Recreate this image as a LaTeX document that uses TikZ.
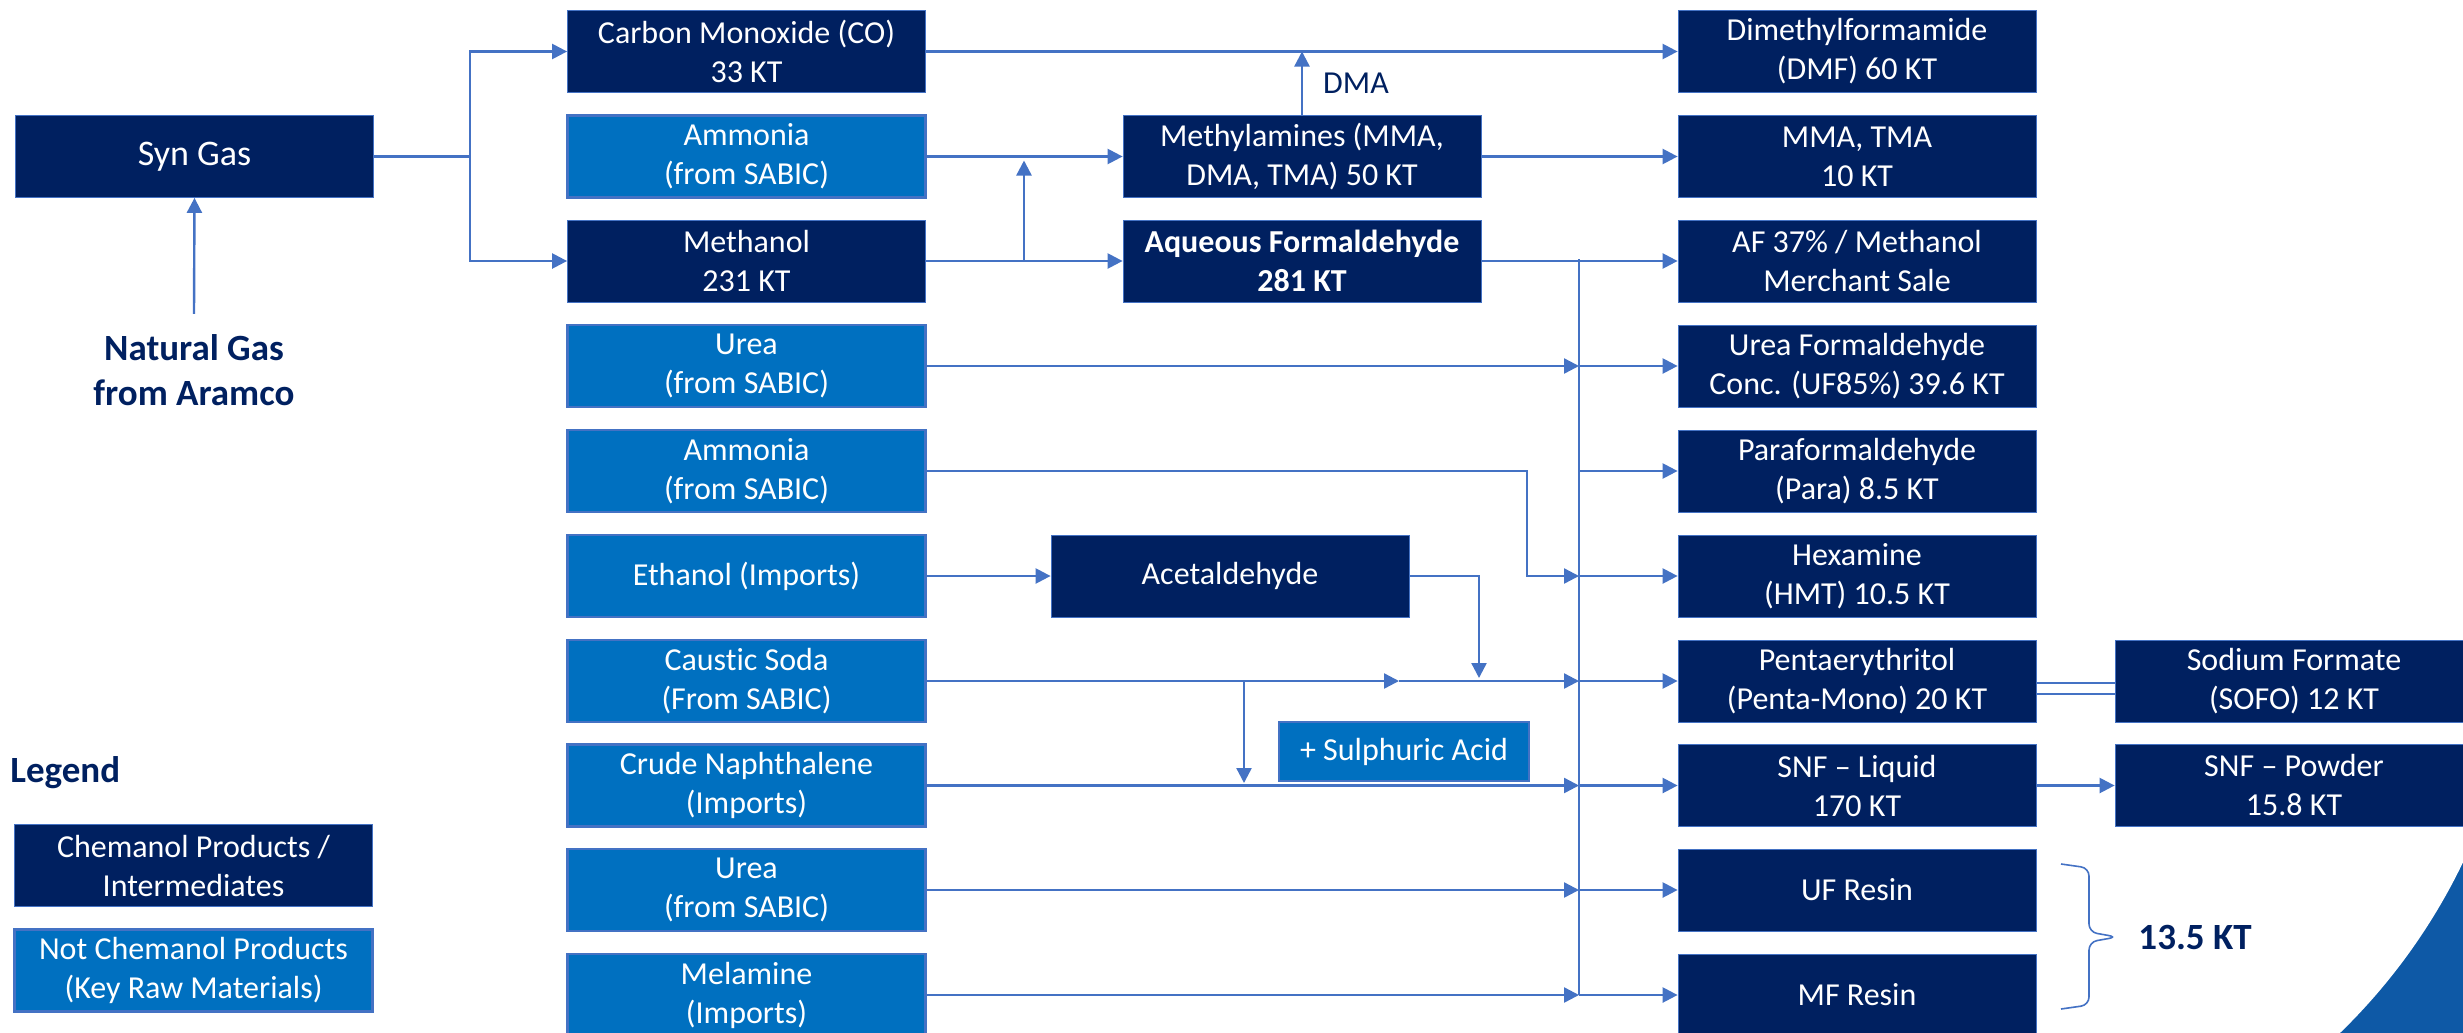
\documentclass[tikz,border=0pt]{standalone}
\usepackage{fontspec}
\setmainfont{Carlito}[Ligatures=NoCommon]
\usetikzlibrary{arrows.meta}
\definecolor{navy}{RGB}{0,32,96}
\definecolor{lblue}{RGB}{0,112,192}
\definecolor{lnblue}{RGB}{68,114,196}
\definecolor{arcblue}{RGB}{14,89,166}
\begin{document}
\begin{tikzpicture}[x=0.5pt,y=-0.5pt,
 box/.style={minimum width=179pt,minimum height=41pt,inner sep=0pt,align=center,text=white,font=\fontsize{16}{19.5}\selectfont},
 dk/.style={box,fill=navy,draw=lnblue,line width=0.4pt},
 lt/.style={box,fill=lblue,draw=lnblue,line width=1.2pt},
 conn/.style={draw=lnblue,line width=1.2pt},
 arr/.style={conn,-{Triangle[length=7.5pt,width=7.5pt]}},
 lbl/.style={text=navy,font=\fontsize{18.5}{22.5}\selectfont\bfseries,align=center,inner sep=0pt},
 plain/.style={text=navy,font=\fontsize{16}{19.5}\selectfont,inner sep=0pt},
]
\useasboundingbox (0,0) rectangle (2463,1033);
% decorative corner arc
\begin{scope}
\clip (2280,845) rectangle (2470,1040);
\fill[arcblue] (2270,835) rectangle (2480,1050);
\fill[white] (1922,602.5) circle (600);
\end{scope}
% left column
\node[dk,font=\fontsize{18}{21}\selectfont] (syn) at (194.5,156.5) {Syn Gas};
\node[lbl] (ng) at (194,370) {Natural Gas\\from Aramco};
\node[lbl,anchor=west] (leg) at (10,773) {Legend};
\node[dk] (lg1) at (193.5,865.5) {Chemanol Products /\\Intermediates};
\node[lt] (lg2) at (193.5,970.5) {Not Chemanol Products\\(Key Raw Materials)};
% second column
\node[dk] (co) at (746.5,51.5) {Carbon Monoxide (CO)\\33 KT};
\node[lt] (amm1) at (746.5,156.5) {Ammonia\\(from SABIC)};
\node[dk] (meth) at (746.5,261) {Methanol\\231 KT};
\node[lt] (urea1) at (746.5,366) {Urea\\(from SABIC)};
\node[lt] (amm2) at (746.5,471) {Ammonia\\(from SABIC)};
\node[lt] (eth) at (746.5,576) {Ethanol (Imports)};
\node[lt] (caus) at (746.5,681) {Caustic Soda\\(From SABIC)};
\node[lt] (naph) at (746.5,785.5) {Crude Naphthalene\\(Imports)};
\node[lt] (urea2) at (746.5,890) {Urea\\(from SABIC)};
\node[lt] (mel) at (746.5,995) {Melamine\\(Imports)};
% middle
\node[dk] (mma) at (1302,156.5) {Methylamines (MMA,\\DMA, TMA) 50 KT};
\node[dk,font=\fontsize{16}{19.5}\selectfont\bfseries] (af) at (1302,261) {Aqueous Formaldehyde\\281 KT};
\node[dk] (acet) at (1230,576) {Acetaldehyde};
\node[lt,minimum width=125pt,minimum height=29.5pt] (sul) at (1404,751.5) {+ Sulphuric Acid};
\node[plain] (dma) at (1356,83) {DMA};
% right column
\node[dk] (dmf) at (1857,51.5) {Dimethylformamide\\(DMF) 60 KT};
\node[dk] (mmt) at (1857,156.5) {MMA, TMA\\10 KT};
\node[dk] (afm) at (1857,261) {AF 37\% / Methanol\\Merchant Sale};
\node[dk] (uf85) at (1857,366) {Urea Formaldehyde\\Conc. (UF85\%) 39.6 KT};
\node[dk] (para) at (1857,471) {Paraformaldehyde\\(Para) 8.5 KT};
\node[dk] (hex) at (1857,576) {Hexamine\\(HMT) 10.5 KT};
\node[dk] (penta) at (1857,681) {Pentaerythritol\\(Penta-Mono) 20 KT};
\node[dk] (snfl) at (1857,785.5) {SNF – Liquid\\170 KT};
\node[dk] (ufr) at (1857,890) {UF Resin};
\node[dk] (mfr) at (1857,995) {MF Resin};
\node[dk] (sofo) at (2294,681) {Sodium Formate\\(SOFO) 12 KT};
\node[dk] (snfp) at (2294,785.5) {SNF – Powder\\15.8 KT};
\node[lbl] (tot) at (2195,937) {13.5 KT};
% coordinates
\coordinate (sj) at (470,156.5);
\coordinate (mj) at (1024,261);
\coordinate (bt) at (1579,259);
\coordinate (bb) at (1579,995);
\coordinate (ax) at (1527,576);
\coordinate (acx) at (1479,678);
\coordinate (cm) at (1399,681);
\coordinate (cb) at (1244,681);
\coordinate (cbe) at (1244,783);
% connectors
\draw[arr] ([yshift=10pt]ng.north) -- (syn.south);
\draw[conn] (syn.east) -- (sj);
\draw[arr] (sj) |- (co.west);
\draw[arr] (sj) |- (meth.west);
\draw[arr] (co.east) -- (dmf.west);
\draw[arr] (mma.north) -- (mma.north |- co.east);
\draw[arr] (amm1.east) -- (mma.west);
\draw[arr] (meth.east) -- (af.west);
\draw[arr] (mj) -- ([yshift=-2pt]mj |- amm1.east);
\draw[arr] (mma.east) -- (mmt.west);
\draw[arr] (af.east) -- (afm.west);
\draw[conn] (bt) -- (bb);
\foreach \t in {uf85,para,hex,penta,snfl,ufr,mfr}{
  \draw[arr] (bt |- \t.west) -- (\t.west);
}
\draw[arr] (urea1.east) -- (bt |- urea1.east);
\draw[arr] (amm2.east) -| (ax) -- (bt |- ax);
\draw[arr] (eth.east) -- (acet.west);
\draw[arr] (acet.east) -| (acx);
\draw[arr] (caus.east) -- (cm);
\draw[arr] (cm) -- (bt |- cm);
\draw[arr] (cb) -- (cbe);
\draw[arr] (naph.east) -- (bt |- naph.east);
\draw[arr] (urea2.east) -- (bt |- urea2.east);
\draw[arr] (mel.east) -- (bt |- mel.east);
\draw[conn] ([yshift=-1pt]penta.east) -- ([yshift=-1pt]penta.east -| sofo.west);
\draw[conn] ([yshift=-6.5pt]penta.east) -- ([yshift=-6.5pt]penta.east -| sofo.west);
\draw[arr] (snfl.east) -- (snfp.west);
% brace
\draw[draw=lnblue,line width=0.8pt,rounded corners=4pt] (2061,864) -- (2089,868) -- (2089,932) -- (2117,937) -- (2089,942) -- (2089,1005) -- (2061,1009);
\end{tikzpicture}
\end{document}
